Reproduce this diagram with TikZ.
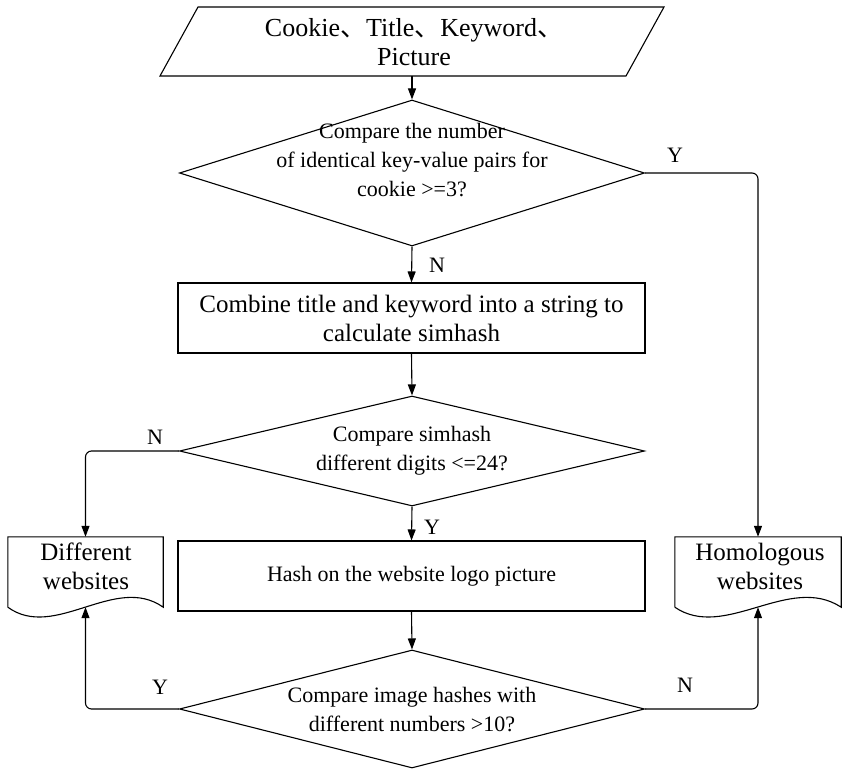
\documentclass[tikz,border=0pt]{standalone}
\usepackage{fontspec}
\setmainfont{Liberation Serif}
\newfontfamily\cjk{Noto Sans CJK SC}
\usetikzlibrary{arrows.meta,shapes.geometric}
\begin{document}
\begin{tikzpicture}[x=1pt,y=-1pt,
  every node/.style={font=\fontsize{22}{29}\selectfont},
  ln/.style={line width=1.1pt},
  flow/.style={ln,-{Triangle[length=11pt,width=8pt]},rounded corners=6pt},
  procbox/.style={draw,ln,minimum width=467pt,minimum height=70pt,align=center,inner sep=0pt},
  decision/.style={draw,ln,diamond,inner sep=0pt},
  txt/.style={align=center,inner sep=0pt},
  bigtxt/.style={font=\fontsize{25}{29}\selectfont},
  doctxt/.style={txt,bigtxt},
  docarea/.style={minimum height=70pt,inner sep=0pt},
]
\useasboundingbox (0,0) rectangle (846,770);

% input (parallelogram)
\node[minimum width=504pt,minimum height=69pt,inner sep=0pt] (inp) at (412,41.5) {};
\draw[ln] (160,76) -- (626,76) -- (664,7) -- (198,7) -- cycle;
\node[txt,font=\fontsize{26}{29}\selectfont] (inptxt) at (414,42) {Cookie{\cjk 、}Title{\cjk 、}Keyword{\cjk 、}\\Picture};

% decision 1
\node[decision,minimum width=465pt,minimum height=146pt] (d1) at (412,173) {};
\node[txt] (d1txt) at (412,160) {Compare the number\\of identical key-value pairs for\\cookie >=3?};

% process 1
\node[procbox,bigtxt] (p1) at (411.5,318) {Combine title and keyword into a string to\\calculate simhash};

% decision 2
\node[decision,minimum width=465pt,minimum height=110pt] (d2) at (412,451) {};
\node[txt] (d2txt) at (412,451) {Compare simhash\\different digits <=24?};

% process 2
\node[procbox] (p2) at (411.5,576) {Hash on the website logo picture};

% decision 3
\node[decision,minimum width=465pt,minimum height=118pt] (d3) at (412,709) {};
\node[txt] (d3txt) at (412,710) {Compare image hashes with\\different numbers >10?};

% documents
\node[docarea,minimum width=155pt] (diff) at (85.5,572) {};
\draw[ln] (diff.south west) -- (diff.north west) -- (diff.north east) -- (diff.south east)
  .. controls +(-48,-34) and +(47,34) .. (diff.south west);
\node[doctxt] (difftxt) at (86,566) {Different\\websites};

\node[docarea,minimum width=166pt] (homo) at (758,572) {};
\draw[ln] (homo.south west) -- (homo.north west) -- (homo.north east) -- (homo.south east)
  .. controls +(-52,-34) and +(50,34) .. (homo.south west);
\node[doctxt] (homotxt) at (760,566) {Homologous\\websites};

% connectors
\draw[flow] (inp.south) -- (d1.north);
\draw[flow] (d1.south) -- (p1.north);
\draw[flow] (p1.south) -- (d2.north);
\draw[flow] (d2.south) -- (p2.north);
\draw[flow] (p2.south) -- (d3.north);
\draw[flow] (d1.east) -| (homo.north);
\draw[flow] (d2.west) -| (diff.north);
\draw[flow] (d3.west) -| (diff.south);
\draw[flow] (d3.east) -| (homo.south);

% branch labels
\node (lY1) at (675,155) {Y};
\node (lN1) at (437,265) {N};
\node (lN2) at (155,437) {N};
\node (lY2) at (432,527) {Y};
\node (lY3) at (160,687) {Y};
\node (lN3) at (685,685) {N};
\end{tikzpicture}
\end{document}
